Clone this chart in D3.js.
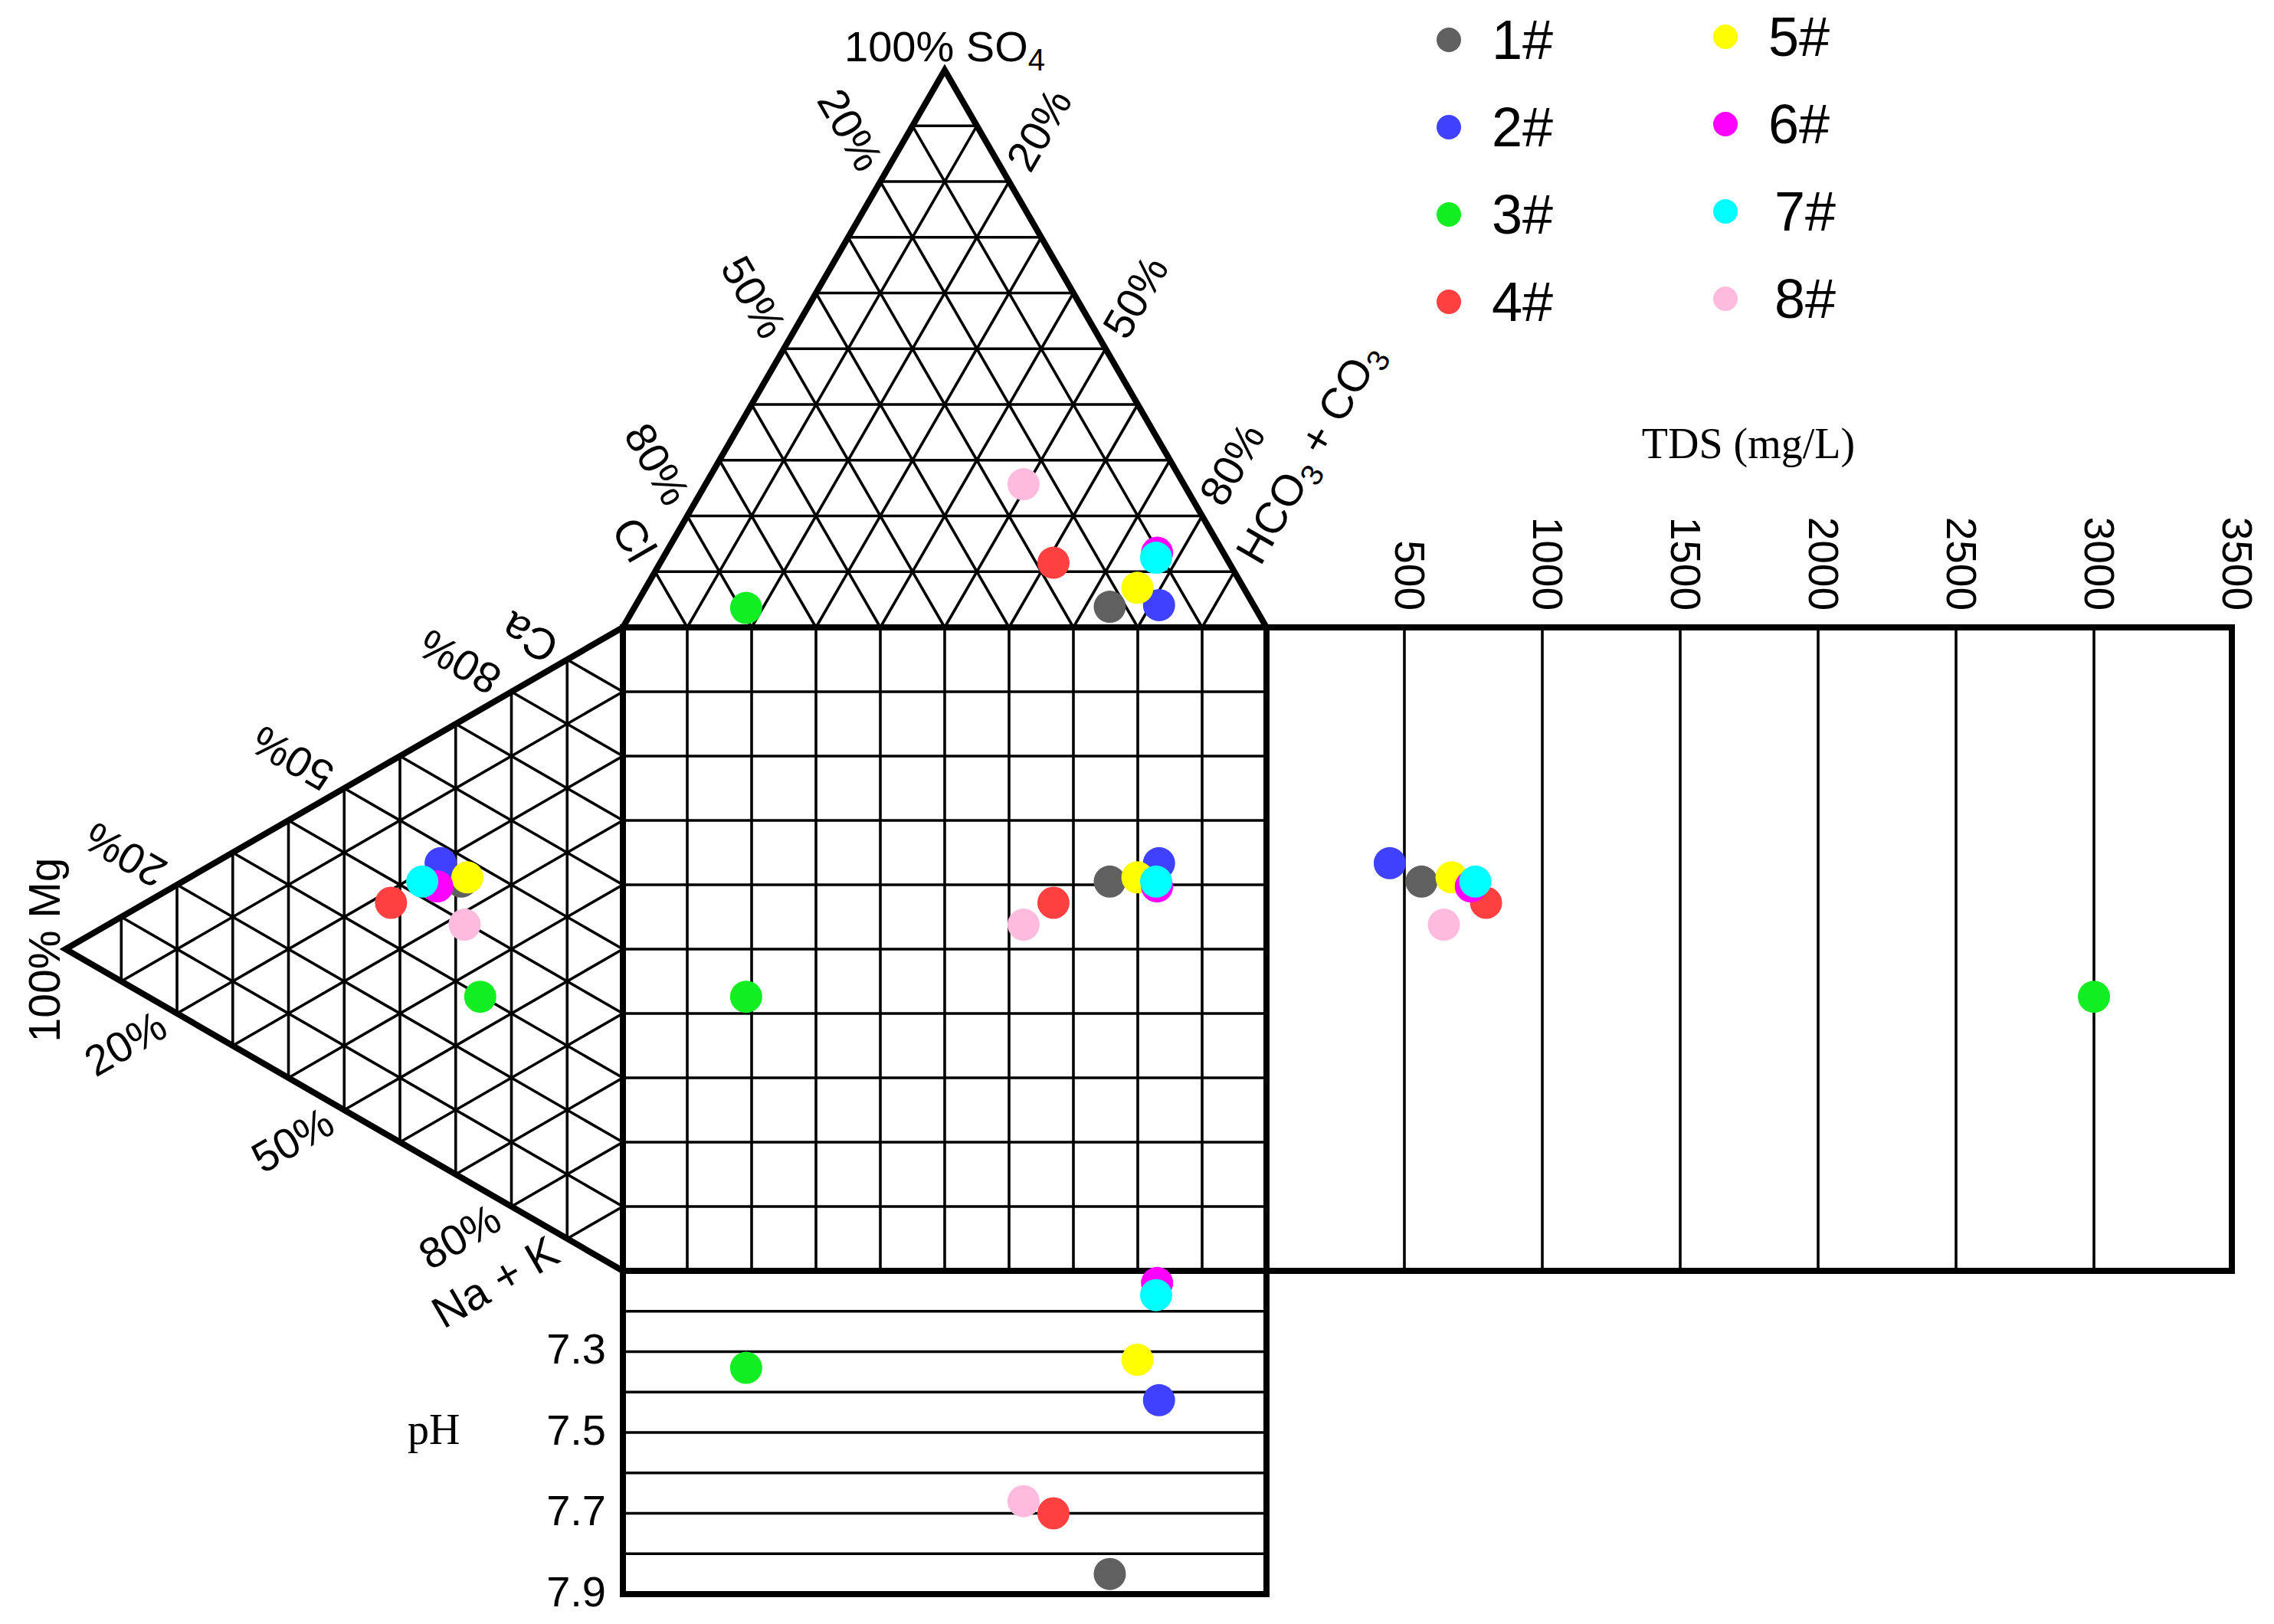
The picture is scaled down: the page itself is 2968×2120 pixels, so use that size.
<!DOCTYPE html>
<html>
<head>
<meta charset="utf-8">
<script src="https://cdn.jsdelivr.net/npm/d3@7"></script>
<style>
  body { margin: 0; background: #fff; }
  svg { display: block; }
  text { font-family: "Liberation Sans", Arial, sans-serif; fill: #000; }
  text.serif { font-family: "Liberation Serif", "Times New Roman", serif; }
</style>
</head>
<body>
<div id="durov"></div>
<script>
// sample ids + colours
var samples = ["1#", "2#", "3#", "4#", "5#", "6#", "7#", "8#"];
var colors  = ["#606060", "#4040ff", "#11ee22", "#ff4040", "#ffff00", "#ff00ff", "#00ffff", "#ffbbdd"];

// anions (% meq)
var so4  = [3.7, 4.0, 3.5, 11.6, 7.1, 13.4, 12.5, 25.7];
var cl   = [22.5, 14.7, 79.1, 27.3, 16.5, 10.3, 10.9, 24.9];
var hco3 = [73.8, 81.3, 17.4, 61.1, 76.4, 76.3, 76.6, 49.4];

// cations (% meq)
var ca   = [46.0, 47.0, 29.8, 36.4, 47.2, 43.1, 42.5, 39.6];
var mg   = [29.0, 32.7, 25.6, 41.6, 27.9, 33.3, 36.0, 28.4];
var nak  = [25.0, 20.3, 44.6, 22.0, 24.9, 23.6, 21.5, 32.0];

// TDS (mg/L) and pH
var tds  = [562, 447, 3000, 796, 671, 741, 757, 643];
var ph   = [7.85, 7.42, 7.34, 7.70, 7.32, 7.13, 7.16, 7.67];

// ticks
var gridPct  = [10, 20, 30, 40, 50, 60, 70, 80, 90];
var pctTicks = [20, 50, 80];
var tdsTicks = [500, 1000, 1500, 2000, 2500, 3000, 3500];
var phLines  = [7.2, 7.3, 7.4, 7.5, 7.6, 7.7, 7.8];
var phTicks  = [7.3, 7.5, 7.7, 7.9];

//--------------geometry
var W = 2968, H = 2120;
var side = 840, tri = side * Math.sqrt(3) / 2;
var x0 = 813, y0 = 819, x1 = x0 + side, y1 = y0 + side;

var xs    = d3.scaleLinear().domain([0, 100]).range([x0, x1]);          // square, horizontal
var ys    = d3.scaleLinear().domain([0, 100]).range([y0, y1]);          // square, vertical
var upY   = d3.scaleLinear().domain([0, 100]).range([y0, y0 - tri]);    // SO4 height
var leftX = d3.scaleLinear().domain([0, 100]).range([x0, x0 - tri]);    // Mg depth
var tdsX  = d3.scaleLinear().domain([0, 3500]).range([x1, x1 + 1260]);
var phY   = d3.scaleLinear().domain([7.1, 7.9]).range([y1, y1 + 422]);

// anion triangle (SO4, HCO3) -> screen, cation triangle (Mg, Na+K) -> screen
function anionPt(s, h)  { return [xs(h + s / 2), upY(s)]; }
function cationPt(m, n) { return [leftX(m), ys(n + m / 2)]; }

var svg = d3.select("#durov").append("svg")
    .attr("width", W)
    .attr("height", H);

svg.append("rect").attr("width", W).attr("height", H).attr("fill", "#fff");

var grid = svg.append("g")
    .attr("stroke", "#000")
    .attr("stroke-width", 3.6)
    .attr("fill", "none");

function seg(a, b) {
  grid.append("line")
    .attr("x1", a[0]).attr("y1", a[1])
    .attr("x2", b[0]).attr("y2", b[1]);
}

// anion triangle grid
gridPct.forEach(function (v) {
  seg(anionPt(v, 0), anionPt(v, 100 - v));          // SO4 const
  seg(anionPt(0, v), anionPt(100 - v, v));          // HCO3 const
  seg(anionPt(0, 100 - v), anionPt(100 - v, 0));    // Cl const
});

// cation triangle grid
gridPct.forEach(function (v) {
  seg(cationPt(v, 0), cationPt(v, 100 - v));        // Mg const
  seg(cationPt(0, v), cationPt(100 - v, v));        // Na+K const
  seg(cationPt(0, 100 - v), cationPt(100 - v, 0));  // Ca const
});

// square grid
gridPct.forEach(function (v) {
  seg([xs(v), y0], [xs(v), y1]);
  seg([x0, ys(v)], [x1, ys(v)]);
});

// TDS and pH panels
tdsTicks.slice(0, -1).forEach(function (v) { seg([tdsX(v), y0], [tdsX(v), y1]); });
phLines.forEach(function (v) { seg([x0, phY(v)], [x1, phY(v)]); });

// outer frames
var frame = svg.append("g")
    .attr("stroke", "#000")
    .attr("stroke-width", 8)
    .attr("stroke-linejoin", "miter")
    .attr("fill", "none");

frame.append("polygon").attr("points", [anionPt(0, 0), anionPt(100, 0), anionPt(0, 100)].join(" "));
frame.append("polygon").attr("points", [cationPt(0, 0), cationPt(100, 0), cationPt(0, 100)].join(" "));
frame.append("rect").attr("x", x0).attr("y", y0).attr("width", side).attr("height", side);
frame.append("rect").attr("x", x1).attr("y", y0)
    .attr("width", tdsX(3500) - x1).attr("height", side);
frame.append("rect").attr("x", x0).attr("y", y1)
    .attr("width", side).attr("height", phY(7.9) - y1);

//--------------points
var idx = d3.range(samples.length);
var R = 21;

function dots(cx, cy) {
  svg.append("g").selectAll("circle")
    .data(idx)
    .enter()
    .append("circle")
    .attr("cx", cx)
    .attr("cy", cy)
    .attr("r", R)
    .attr("fill", function (i) { return colors[i]; });
}

var sqX = function (i) { return xs(hco3[i] + so4[i] / 2); };
var sqY = function (i) { return ys(nak[i] + mg[i] / 2); };

dots(sqX, function (i) { return upY(so4[i]); });                       // anion triangle
dots(function (i) { return leftX(mg[i]); }, sqY);                      // cation triangle
dots(sqX, sqY);                                                        // square
dots(function (i) { return tdsX(tds[i]); }, sqY);                      // TDS
dots(sqX, function (i) { return phY(ph[i]); });                        // pH

//--------------labels
var FS = 56, off = 78;
var c30 = Math.cos(Math.PI / 6), s30 = 0.5;

function label(p, rot, txt, size) {
  svg.append("text")
    .attr("transform", "translate(" + p[0] + "," + p[1] + ") rotate(" + rot + ")")
    .attr("text-anchor", "middle")
    .attr("dominant-baseline", "central")
    .attr("font-size", size || FS)
    .text(txt);
}

pctTicks.forEach(function (v) {
  var p;
  // Cl, left side of anion triangle
  p = anionPt(100 - v, 0);
  label([p[0] - off * s30, p[1] - off * c30], 60, v + "%");
  // HCO3, right side
  p = anionPt(100 - v, v);
  label([p[0] + off * s30, p[1] - off * c30], -60, v + "%");
  // Ca, upper side of cation triangle
  p = cationPt(100 - v, 0);
  label([p[0] - off * c30, p[1] - off * s30], -150, v + "%");
  // Na+K, lower side
  p = cationPt(100 - v, v);
  label([p[0] - off * c30, p[1] + off * s30], -30, v + "%");
});

label([828, 704], 60, "Cl", 58);
label([691, 833], -150, "Ca", 58);
label([646, 1673], -30, "Na + K", 58);
label([58, 1240], -90, "100% Mg", 57);

// 100% SO4
var so4Lab = svg.append("text")
    .attr("x", (x0 + x1) / 2)
    .attr("y", 80)
    .attr("text-anchor", "middle")
    .attr("font-size", 56);
so4Lab.append("tspan").text("100% SO");
so4Lab.append("tspan").attr("font-size", 40).attr("dy", 12).text("4");

// HCO3 + CO3
var hcoLab = svg.append("text")
    .attr("transform", "translate(1708,591) rotate(-60)")
    .attr("y", 20)
    .attr("text-anchor", "middle")
    .attr("font-size", 57);
hcoLab.append("tspan").text("HCO");
hcoLab.append("tspan").attr("font-size", 40).attr("dy", 12).text("3");
hcoLab.append("tspan").attr("dy", -12).text(" + CO");
hcoLab.append("tspan").attr("font-size", 40).attr("dy", 12).text("3");

// TDS axis
svg.append("text")
    .attr("class", "serif")
    .attr("x", 2282)
    .attr("y", 598)
    .attr("text-anchor", "middle")
    .attr("font-size", 56)
    .text("TDS (mg/L)");

svg.append("g").selectAll("text")
    .data(tdsTicks)
    .enter()
    .append("text")
    .attr("transform", function (d) { return "translate(" + (tdsX(d) + 7) + ",797) rotate(90)"; })
    .attr("text-anchor", "end")
    .attr("dy", "0.35em")
    .attr("font-size", 55)
    .text(function (d) { return d; });

// pH axis
svg.append("g").selectAll("text")
    .data(phTicks)
    .enter()
    .append("text")
    .attr("x", 791)
    .attr("y", function (d) { return phY(d) - 4; })
    .attr("text-anchor", "end")
    .attr("dy", "0.35em")
    .attr("font-size", 56)
    .text(function (d) { return d.toFixed(1); });

svg.append("text")
    .attr("class", "serif")
    .attr("x", 532)
    .attr("y", 1885)
    .attr("font-size", 56)
    .text("pH");

//--------------legend
var legend = svg.append("g").selectAll("g")
    .data(idx)
    .enter()
    .append("g")
    .attr("transform", function (i) {
      var col = Math.floor(i / 4), row = i % 4;
      return "translate(" + (1891 + col * 361) + "," + (52 + row * 114 - col * 4) + ")";
    });

legend.append("circle")
    .attr("r", 16)
    .attr("fill", function (i) { return colors[i]; });

legend.append("text")
    .attr("x", function (i) { return i < 6 ? 56 : 64; })
    .attr("dy", "0.35em")
    .attr("font-size", 72)
    .text(function (i) { return samples[i]; });
</script>
</body>
</html>
